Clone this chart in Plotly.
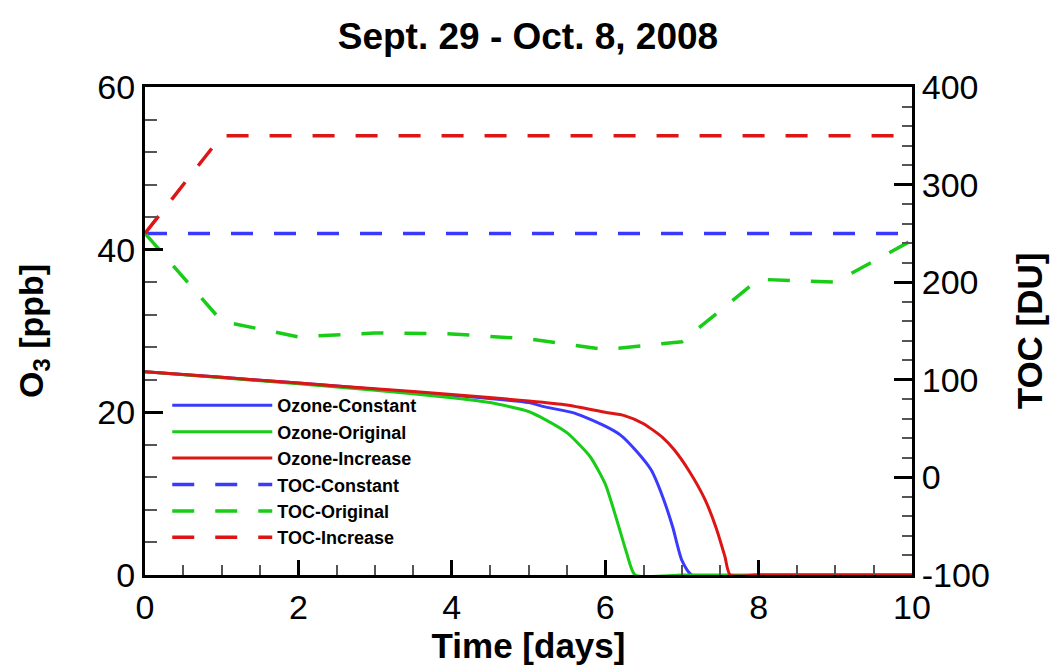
import plotly.graph_objects as go

# ---- data ----
t_ozone_constant = [0, 1, 2, 3, 4, 5, 5.2, 5.6, 6.0, 6.2, 6.4, 6.6, 6.75, 6.88, 7.0, 7.13, 8, 9, 10]
ozone_constant = [25, 24.3, 23.6, 22.85, 22.1, 21.2, 20.7, 19.9, 18.3, 17.2, 15.3, 12.9, 9.6, 5.9, 1.8, 0, 0, 0, 0]

t_ozone_original = [0, 1, 2, 3, 4, 4.5, 5.0, 5.2, 5.5, 5.8, 6.0, 6.15, 6.28, 6.39, 7, 8, 9, 10]
ozone_original = [25, 24.25, 23.5, 22.7, 21.8, 21.2, 20.1, 19.2, 17.5, 14.6, 11.2, 6.8, 2.7, 0, 0, 0, 0, 0]

t_ozone_increase = [0, 1, 2, 3, 4, 5, 5.5, 6, 6.25, 6.5, 6.75, 6.9, 7.1, 7.3, 7.45, 7.56, 7.63, 8, 9, 10]
ozone_increase = [25, 24.3, 23.6, 22.9, 22.2, 21.4, 20.9, 20.0, 19.6, 18.6, 16.9, 15.4, 12.7, 9.3, 5.7, 2.3, 0, 0, 0, 0]

t_toc = [0, 1, 2, 3, 4, 5, 6, 7, 8, 9, 10]
toc_constant = [250, 250, 250, 250, 250, 250, 250, 250, 250, 250, 250]
toc_original = [250, 160, 144, 148, 147, 142, 131, 139, 203, 200, 243]
toc_increase = [250, 350, 350, 350, 350, 350, 350, 350, 350, 350, 350]

y2_tickvals = [-100, 0, 100, 200, 300, 400]
y2_ticktext = ["-100", "0", "100", "200", "300", "400"]

BLUE = "#3a3aff"
GREEN = "#18cc18"
RED = "#dd1515"
FONT = "Liberation Sans, Arial, sans-serif"
DASH = "22px,21px"

fig = go.Figure()
fig.add_trace(go.Scatter(x=t_ozone_constant, y=ozone_constant, name="Ozone-Constant",
                         mode="lines", line=dict(color=BLUE, width=3, shape="spline", smoothing=0.6)))
fig.add_trace(go.Scatter(x=t_ozone_original, y=ozone_original, name="Ozone-Original",
                         mode="lines", line=dict(color=GREEN, width=3, shape="spline", smoothing=0.6)))
fig.add_trace(go.Scatter(x=t_ozone_increase, y=ozone_increase, name="Ozone-Increase",
                         mode="lines", line=dict(color=RED, width=3, shape="spline", smoothing=0.6)))
fig.add_trace(go.Scatter(x=t_toc, y=toc_constant, name="TOC-Constant", yaxis="y2",
                         mode="lines", line=dict(color=BLUE, width=3.5, dash=DASH)))
fig.add_trace(go.Scatter(x=t_toc, y=toc_original, name="TOC-Original", yaxis="y2",
                         mode="lines", line=dict(color=GREEN, width=3.5, dash=DASH)))
fig.add_trace(go.Scatter(x=t_toc, y=toc_increase, name="TOC-Increase", yaxis="y2",
                         mode="lines", line=dict(color=RED, width=3.5, dash=DASH)))

fig.update_layout(
    width=1062, height=668,
    paper_bgcolor="white", plot_bgcolor="white",
    margin=dict(l=137, r=158, t=79, b=101),
    font=dict(family=FONT, color="black"),
    title=dict(text="<b>Sept. 29 - Oct. 8, 2008</b>", x=0.4896, xanchor="center",
               y=0.958, yanchor="middle", font=dict(size=37, family=FONT)),
    showlegend=True,
    legend=dict(x=0.029, y=0.385, xanchor="left", yanchor="top",
                bgcolor="rgba(255,255,255,0)", borderwidth=0,
                font=dict(size=18, family=FONT, weight="bold"), itemwidth=100,
                tracegroupgap=0),
    xaxis=dict(range=[0, 10], dtick=2, tick0=0, showgrid=False, zeroline=False,
               showline=True, linecolor="black", linewidth=3, mirror=True,
               ticks="inside", ticklen=15, tickwidth=2.5, tickcolor="black",
               tickfont=dict(size=34, family=FONT),
               minor=dict(dtick=0.5, ticks="inside", ticklen=10, tickwidth=1.5, tickcolor="#555"),
               title=dict(text="<b>Time [days]</b>", font=dict(size=35, family=FONT), standoff=8)),
    yaxis=dict(range=[0, 60], dtick=20, showgrid=False, zeroline=False,
               showline=True, linecolor="black", linewidth=3,
               ticks="inside", ticklen=18, tickwidth=2.5, tickcolor="black",
               tickfont=dict(size=34, family=FONT),
               minor=dict(dtick=4, ticks="inside", ticklen=12, tickwidth=1.5, tickcolor="#555")),
    yaxis2=dict(range=[-100, 400], overlaying="y", side="right",
                tickmode="array", tickvals=y2_tickvals, ticktext=y2_ticktext,
                showgrid=False, zeroline=False,
                showline=True, linecolor="black", linewidth=3,
                ticks="inside", ticklen=18, tickwidth=2.5, tickcolor="black",
                tickfont=dict(size=34, family=FONT),
                minor=dict(dtick=20, tick0=0, ticks="inside", ticklen=10, tickwidth=1.5, tickcolor="#555")),
    annotations=[
        dict(text="<b>O<sub>3</sub> [ppb]</b>", xref="paper", yref="paper", x=-0.146, y=0.50,
             xanchor="center", yanchor="middle", textangle=-90, showarrow=False,
             font=dict(size=34, family=FONT)),
        dict(text="<b>TOC [DU]</b>", xref="paper", yref="paper", x=1.153, y=0.50,
             xanchor="center", yanchor="middle", textangle=-90, showarrow=False,
             font=dict(size=35, family=FONT)),
    ],
)

fig.write_html("out.html")
